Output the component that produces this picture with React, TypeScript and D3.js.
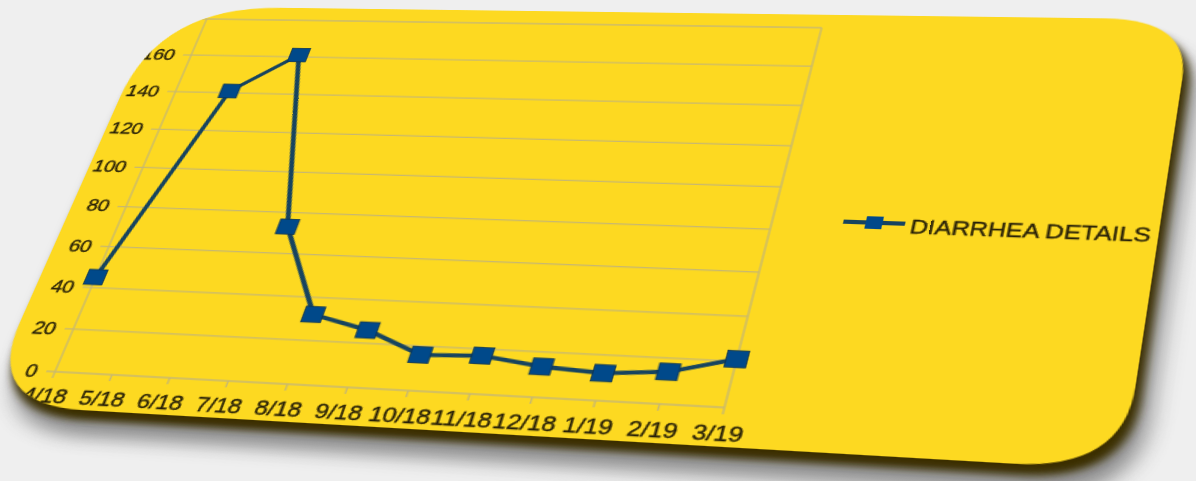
import React from "react";
import * as d3 from "d3";

const categories = ["4/18","5/18","6/18","7/18","8/18","9/18","10/18","11/18","12/18","1/19","2/19","3/19"];
const values = [45, 141, 161, 73, 32, 26, 16, 17, 13.5, 12, 14, 21];
const yTickValues = [0,20,40,60,80,100,120,140,160,180];
const seriesLabel = "DIARRHEA DETAILS";

// flat layout (before the perspective warp)
const W = 1000, H = 620;
const PL = 150, PT = 60, PW = 500, PH = 370;
const CARD = { left: 105, top: 46, right: 920, bottom: 464 };
const RADII = [105, 62, 70, 80];
const LEGEND = { lineX: 701, lineLen: 44, y: 256, textX: 749, textY: 265 };
// where the plot corners land on the page (TL, TR, BR, BL)
const IMG_PLOT = [[206.7,19],[821.7,27.7],[724.5,407.5],[55,371.7]];

function homography(src: number[][], dst: number[][]) {
  const A: number[][] = [], B: number[] = [];
  for (let i = 0; i < 4; i++) {
    const [x, y] = src[i]; const [X, Y] = dst[i];
    A.push([x, y, 1, 0, 0, 0, -x * X, -y * X]); B.push(X);
    A.push([0, 0, 0, x, y, 1, -x * Y, -y * Y]); B.push(Y);
  }
  const n = 8;
  for (let c = 0; c < n; c++) {
    let p = c;
    for (let r = c + 1; r < n; r++) if (Math.abs(A[r][c]) > Math.abs(A[p][c])) p = r;
    [A[c], A[p]] = [A[p], A[c]]; [B[c], B[p]] = [B[p], B[c]];
    for (let r = 0; r < n; r++) {
      if (r === c) continue;
      const f = A[r][c] / A[c][c];
      for (let k = c; k < n; k++) A[r][k] -= f * A[c][k];
      B[r] -= f * B[c];
    }
  }
  const h = B.map((b, i) => b / A[i][i]);
  return [[h[0], h[1], h[2]], [h[3], h[4], h[5]], [h[6], h[7], 1]];
}

const FLAT_PLOT = [[PL, PT], [PL + PW, PT], [PL + PW, PT + PH], [PL, PT + PH]];
const Hm = homography(FLAT_PLOT, IMG_PLOT);
const css = `matrix3d(${Hm[0][0]},${Hm[1][0]},0,${Hm[2][0]},${Hm[0][1]},${Hm[1][1]},0,${Hm[2][1]},0,0,1,0,${Hm[0][2]},${Hm[1][2]},0,1)`;

function roundRect(x: number, y: number, w: number, h: number, r: number[]) {
  const [tl, tr, br, bl] = r;
  const p = d3.path();
  p.moveTo(x + tl, y);
  p.lineTo(x + w - tr, y);
  p.quadraticCurveTo(x + w, y, x + w, y + tr);
  p.lineTo(x + w, y + h - br);
  p.quadraticCurveTo(x + w, y + h, x + w - br, y + h);
  p.lineTo(x + bl, y + h);
  p.quadraticCurveTo(x, y + h, x, y + h - bl);
  p.lineTo(x, y + tl);
  p.quadraticCurveTo(x, y, x + tl, y);
  p.closePath();
  return p.toString();
}

export default function App() {
  const x = d3.scalePoint<string>().domain(categories).range([PL, PL + PW]);
  const y = d3.scaleLinear().domain([0, 180]).range([PT + PH, PT]);
  const line = d3.line<number>().x((_, i) => x(categories[i])!).y((d) => y(d));
  const cw = CARD.right - CARD.left, ch = CARD.bottom - CARD.top;
  const cardPath = roundRect(CARD.left, CARD.top, cw, ch, RADII);
  const grid = "#c8b870";
  const txt = "#261f08";
  const lineCol = "#17445f";
  const mark = "#00498a";
  const ms = 15;
  const textStroke = { stroke: txt, strokeWidth: 0.35 };
  return (
    <div style={{ position: "absolute", left: 0, top: 0, width: 1196, height: 481, overflow: "hidden", background: "#efefef" }}>
      <svg width={W} height={H} style={{ position: "absolute", left: 0, top: 0, transformOrigin: "0 0", transform: css, overflow: "visible" }}>
        <defs>
          <filter id="sh" x="-20%" y="-20%" width="140%" height="160%"><feGaussianBlur stdDeviation="8" /></filter>
          <filter id="ed" x="-10%" y="-10%" width="120%" height="130%"><feGaussianBlur stdDeviation="3" /></filter>
          <clipPath id="cp"><path d={cardPath} /></clipPath>
        </defs>
        <path d={roundRect(CARD.left + 12, CARD.top + 24, cw, ch, RADII)} fill="#7a7a7a" opacity={0.85} filter="url(#sh)" />
        <path d={roundRect(CARD.left + 5, CARD.top + 9, cw, ch, RADII)} fill="#3a2f04" filter="url(#ed)" />
        <path d={cardPath} fill="#fdd921" />
        <g clipPath="url(#cp)" fontFamily="'Liberation Sans', Arial, sans-serif">
          {yTickValues.map((v) => (
            <g key={v}>
              <line x1={PL - 7} x2={PL + PW} y1={y(v)} y2={y(v)} stroke={grid} strokeWidth={1.3} />
              <text x={PL - 14} y={y(v)} dy="0.36em" textAnchor="end" fontSize={16.5} fill={txt} {...textStroke}>{v}</text>
            </g>
          ))}
          <line x1={PL} x2={PL} y1={PT} y2={PT + PH} stroke={grid} strokeWidth={1.3} />
          <line x1={PL + PW} x2={PL + PW} y1={PT} y2={PT + PH} stroke={grid} strokeWidth={1.3} />
          {categories.map((c) => (
            <g key={c}>
              <line x1={x(c)} x2={x(c)} y1={PT + PH} y2={PT + PH + 6} stroke={grid} strokeWidth={1.3} />
              <text x={x(c)} y={PT + PH + 29} textAnchor="middle" fontSize={18} fill={txt} {...textStroke}>{c}</text>
            </g>
          ))}
          <path d={line(values) ?? ""} fill="none" stroke={lineCol} strokeWidth={3.8} strokeLinejoin="round" />
          {values.map((v, i) => (
            <rect key={i} x={x(categories[i])! - ms / 2} y={y(v) - ms / 2} width={ms} height={ms} fill={mark} stroke="#0c3454" strokeWidth={0.8} />
          ))}
          <line x1={LEGEND.lineX} x2={LEGEND.lineX + LEGEND.lineLen} y1={LEGEND.y} y2={LEGEND.y} stroke={lineCol} strokeWidth={3.8} />
          <rect x={LEGEND.lineX + LEGEND.lineLen / 2 - 6} y={LEGEND.y - 6} width={12} height={12} fill={mark} />
          <text x={LEGEND.textX} y={LEGEND.textY} fontSize={17.5} fill={txt} {...textStroke}>{seriesLabel}</text>
        </g>
      </svg>
    </div>
  );
}
